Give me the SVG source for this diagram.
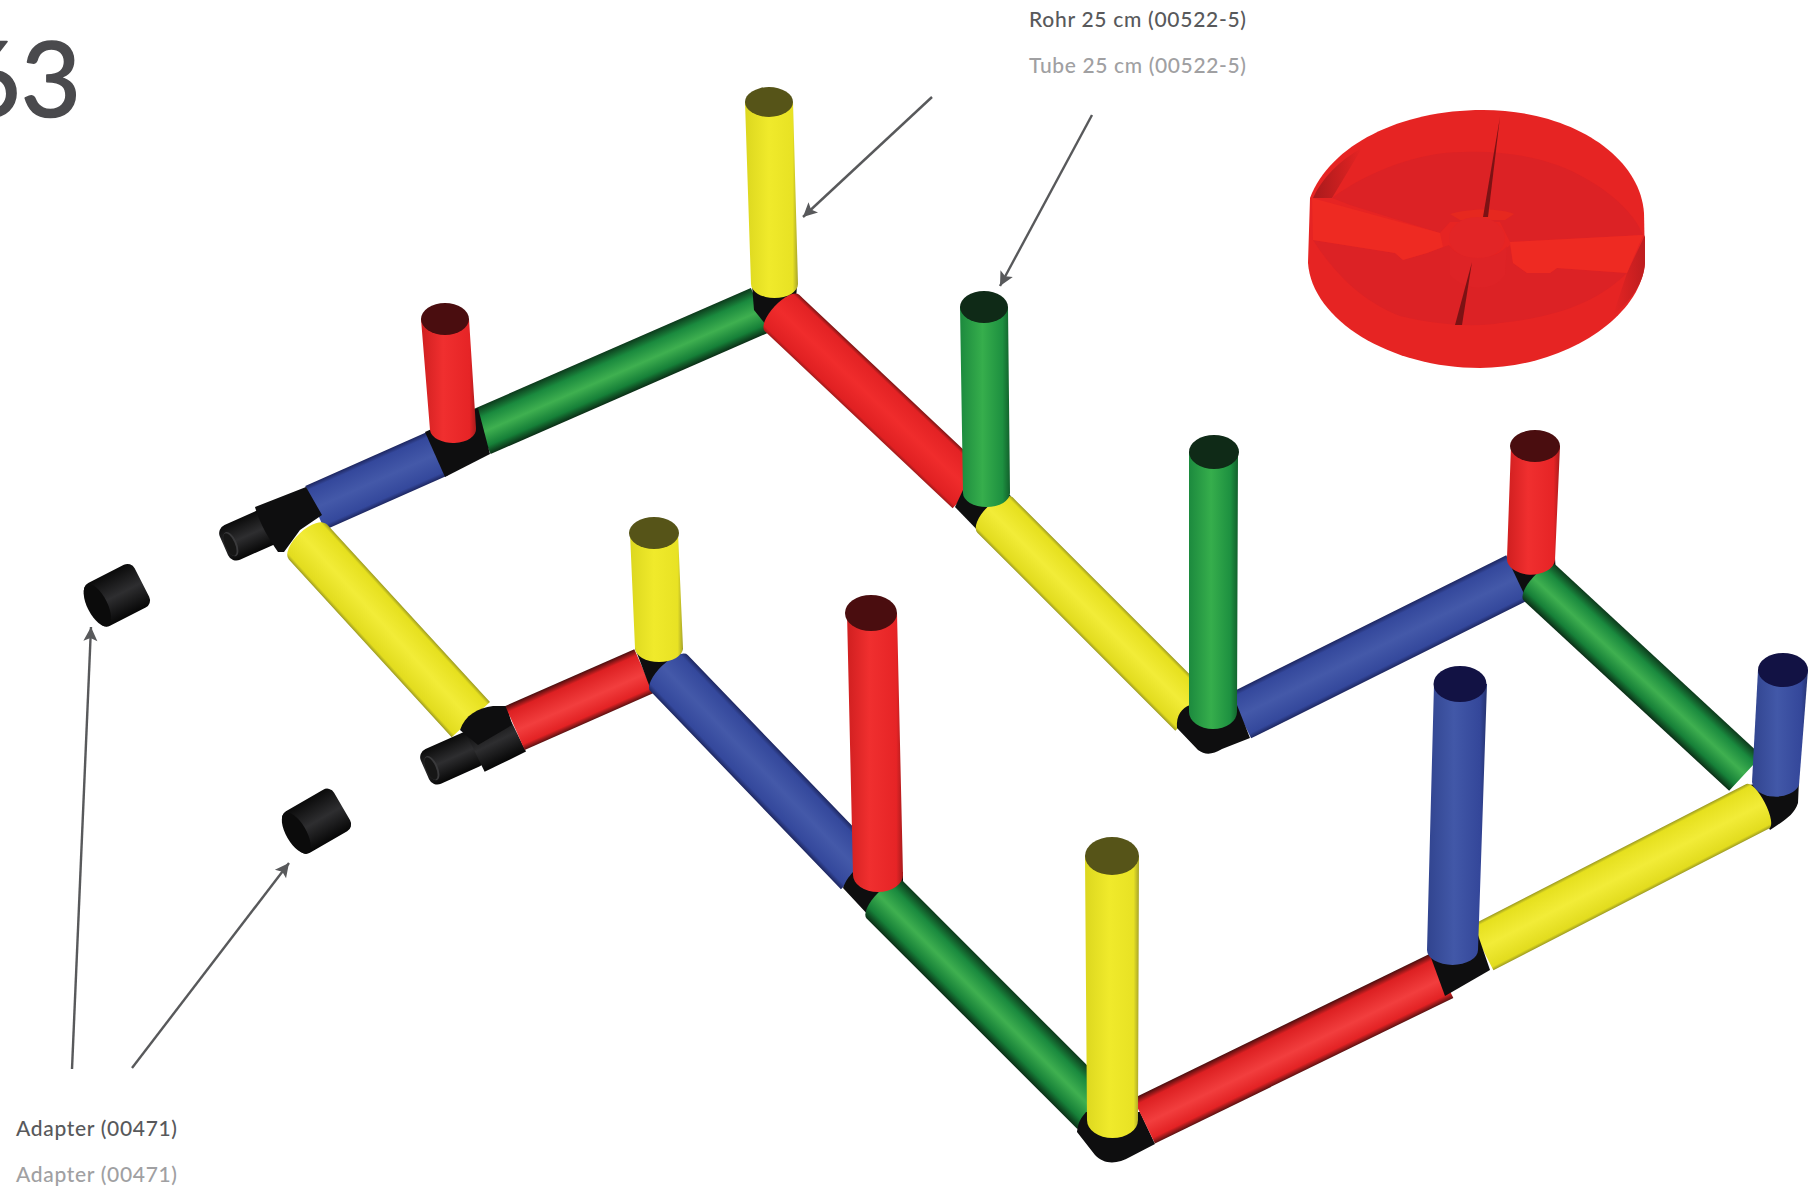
<svg xmlns="http://www.w3.org/2000/svg" width="1818" height="1192" viewBox="0 0 1818 1192">
<defs>
<linearGradient id="rH" x1="0" y1="0" x2="0" y2="1"><stop offset="0" stop-color="#4a0f0f"/><stop offset=".14" stop-color="#dd2022"/><stop offset=".56" stop-color="#f23e3e"/><stop offset=".88" stop-color="#e32224"/><stop offset="1" stop-color="#5a1212"/></linearGradient>
<linearGradient id="rD" x1="0" y1="0" x2="0" y2="1"><stop offset="0" stop-color="#7a1414"/><stop offset=".08" stop-color="#e32224"/><stop offset=".5" stop-color="#f02c2c"/><stop offset=".93" stop-color="#e02022"/><stop offset="1" stop-color="#a01a1a"/></linearGradient>
<linearGradient id="gH" x1="0" y1="0" x2="0" y2="1"><stop offset="0" stop-color="#0d3a1c"/><stop offset=".22" stop-color="#1a8a3e"/><stop offset=".52" stop-color="#3fb050"/><stop offset=".82" stop-color="#168038"/><stop offset="1" stop-color="#0b2e16"/></linearGradient>
<linearGradient id="bH" x1="0" y1="0" x2="0" y2="1"><stop offset="0" stop-color="#1e2760"/><stop offset=".1" stop-color="#34489c"/><stop offset=".5" stop-color="#4459a9"/><stop offset=".9" stop-color="#34489c"/><stop offset="1" stop-color="#1e2760"/></linearGradient>
<linearGradient id="yH" x1="0" y1="0" x2="0" y2="1"><stop offset="0" stop-color="#9c9a22"/><stop offset=".07" stop-color="#e6e01e"/><stop offset=".5" stop-color="#f2ec38"/><stop offset=".93" stop-color="#e2dc1e"/><stop offset="1" stop-color="#9c9a22"/></linearGradient>
<linearGradient id="kH" x1="0" y1="0" x2="0" y2="1"><stop offset="0" stop-color="#0a0a0a"/><stop offset=".5" stop-color="#2e2e30"/><stop offset="1" stop-color="#060606"/></linearGradient>
<linearGradient id="rV" x1="0" y1="0" x2="1" y2="0"><stop offset="0" stop-color="#d01f20"/><stop offset=".4" stop-color="#f02f2f"/><stop offset=".88" stop-color="#e62426"/><stop offset="1" stop-color="#a81b1c"/></linearGradient>
<linearGradient id="gV" x1="0" y1="0" x2="1" y2="0"><stop offset="0" stop-color="#1c8a3e"/><stop offset=".45" stop-color="#36ae4c"/><stop offset=".85" stop-color="#1d9040"/><stop offset="1" stop-color="#12602c"/></linearGradient>
<linearGradient id="bV" x1="0" y1="0" x2="1" y2="0"><stop offset="0" stop-color="#31448f"/><stop offset=".45" stop-color="#4258a8"/><stop offset=".88" stop-color="#34479a"/><stop offset="1" stop-color="#26336f"/></linearGradient>
<linearGradient id="yV" x1="0" y1="0" x2="1" y2="0"><stop offset="0" stop-color="#dcd71f"/><stop offset=".45" stop-color="#f0ea2b"/><stop offset=".9" stop-color="#e8e224"/><stop offset="1" stop-color="#a6a32a"/></linearGradient>
<linearGradient id="shadeL" x1="0" y1="0" x2="1" y2="0"><stop offset="0" stop-color="#a81a1c"/><stop offset="1" stop-color="#e62423"/></linearGradient>
<linearGradient id="shadeR" x1="0" y1="0" x2="1" y2="0"><stop offset="0" stop-color="#e62423"/><stop offset="1" stop-color="#bd1d1f"/></linearGradient>
<marker id="arrow" markerUnits="userSpaceOnUse" markerWidth="18" markerHeight="18" refX="15" refY="8" orient="auto" viewBox="0 0 18 18"><path d="M15 8 L1 1 L4 8 L1 15 Z" fill="#58595b"/></marker>
</defs>
<style>
.lead{fill:none;stroke:#58595b;stroke-width:2.4;marker-end:url(#arrow)}
.de{font-family:"Lato","Open Sans",sans-serif;font-size:21px;font-weight:500;fill:#58595b}
.en{font-family:"Lato","Open Sans",sans-serif;font-size:21px;font-weight:500;fill:#a0a0a2}
.num{font-family:"Lato","Open Sans",sans-serif;font-size:104px;font-weight:400;fill:#4a4a4d;stroke:#4a4a4d;stroke-width:1.6;stroke-linejoin:round}
.k{fill:#0e0e0f}
</style>
<rect width="1818" height="1192" fill="#ffffff"/>
<text class="num" x="81" y="117" text-anchor="end">63</text>

<g id="disc">
<path d="M1310 198 C1330 145 1400 110 1483 110 C1570 110 1640 155 1644 213 L1645 263 C1640 320 1560 368 1480 368 C1390 368 1312 320 1308 263 Z" fill="#e62423"/>
<path d="M1313 198 C1322 178 1340 160 1362 148 L1332 198 Z" fill="url(#shadeL)"/>
<path d="M1613 315 C1632 300 1644 282 1645 263 L1645 235 L1627 273 Z" fill="url(#shadeR)"/>
<path d="M1332 198 C1370 170 1420 152 1463 152 C1510 150 1555 160 1585 178 C1615 195 1635 215 1643 235 L1510 242 L1500 222 L1450 222 L1440 233 L1350 205 Z" fill="#dc2225"/>
<path d="M1313 240 L1395 253 L1403 260 L1427 253 L1443 247 L1449 245 C1460 262 1495 262 1510 245 L1513 263 L1527 273 L1550 273 L1557 268 L1627 273 C1600 300 1560 317 1500 323 C1480 327 1440 326 1400 316 C1365 303 1335 275 1313 240 Z" fill="#dc2225"/>
<path d="M1312 198 L1440 233 L1443 247 L1427 253 L1403 260 L1395 253 L1313 240 Z" fill="#ee2a22"/>
<path d="M1510 242 L1643 235 L1627 273 L1557 268 L1550 273 L1527 273 L1513 263 Z" fill="#ee2a22"/>
<path d="M1450 214 C1470 208 1500 208 1514 214 L1505 220 L1460 220 Z" fill="#e6281f"/>
<ellipse cx="1477" cy="238" rx="28" ry="21" fill="#e22526"/>
<path d="M1450 246 C1460 262 1495 262 1507 246 L1505 275 C1495 292 1465 292 1450 275 Z" fill="#de2326"/>
<path d="M1500 117 L1483 217 L1488 217 Z" fill="#7c1214"/>
<path d="M1472 262 L1455 325 L1462 325 Z" fill="#7c1214"/>
</g>

<g id="frame">
<g id="adapter-1" transform="translate(92,608) rotate(-27)"><rect x="0" y="-24" width="56" height="48" rx="8" fill="url(#kH)"/><ellipse cx="6" cy="0" rx="10" ry="23" fill="#0b0b0b"/></g>
<g id="adapter-2" transform="translate(291,836) rotate(-30)"><rect x="0" y="-24" width="59" height="48" rx="8" fill="url(#kH)"/><ellipse cx="6" cy="0" rx="10" ry="23" fill="#0b0b0b"/></g>

<g id="tube-blue-1" transform="translate(315,508) rotate(-23.9)"><rect x="0" y="-24" width="135" height="48" fill="url(#bH)"/></g>
<g id="joint-a" transform="translate(224,546) rotate(-24)"><rect x="0" y="-19" width="55" height="38" rx="9" fill="url(#kH)"/><ellipse cx="7" cy="1" rx="6" ry="13" fill="#3a3a3c"/><ellipse cx="6" cy="1" rx="5" ry="12" fill="#161616"/></g>
<path id="joint-a2" class="k" d="M255 507 L306 487 L322 515 L300 530 L284 552 L278 552 C270 540 260 525 255 507 Z"/>

<g id="tube-green-1" transform="translate(481,432) rotate(-23.6)"><rect x="0" y="-24" width="305" height="48" fill="url(#gH)"/></g>
<path id="joint-b" class="k" d="M425 432 L478 408 L490 454 L445 477 Z"/>
<path id="joint-c" class="k" d="M752 285 L797 285 L796 300 L770 330 L754 310 Z"/>

<g id="tube-red-1" transform="translate(782,313) rotate(43.3)"><path d="M0 -25 A10 25 0 0 0 0 25 L258 25 L258 -25 Z" fill="url(#rD)"/></g>
<path id="post-y1" d="M745 102 L751 284 A23.5 14 0 0 0 798 284 L793 102 Z" fill="url(#yV)"/><ellipse cx="769" cy="102" rx="24" ry="15" fill="#565418"/>
<path id="post-r1" d="M421 319 L430 430 A23 14 0 0 0 476 428 L469 319 Z" fill="url(#rV)"/><ellipse cx="445" cy="319" rx="24" ry="16" fill="#4a0d0f"/>

<path id="joint-d" class="k" d="M955 507 L963 490 L1010 495 L1014 503 L985 538 Z"/>
<g id="tube-yellow-2" transform="translate(995,515) rotate(45)"><path d="M0 -25 A11 25 0 0 0 0 25 L280 25 L280 -25 Z" fill="url(#yH)"/></g>
<path id="post-g1" d="M960 307 L963 493 A23.5 14 0 0 0 1010 493 L1008 307 Z" fill="url(#gV)"/><ellipse cx="984" cy="307" rx="24" ry="16" fill="#0f2a17"/>

<g id="tube-blue-3" transform="translate(1240,716) rotate(-26.5)"><rect x="0" y="-25" width="310" height="50" fill="url(#bH)"/></g>
<path id="joint-e" class="k" d="M1177 728 C1176 715 1182 708 1190 705 L1237 705 L1250 738 L1222 749 C1212 755 1205 755 1198 750 Z"/>
<path id="post-g2" d="M1189 452 L1189 712 A24 17 0 0 0 1237 712 L1238 452 Z" fill="url(#gV)"/><ellipse cx="1214" cy="452" rx="25" ry="17" fill="#0f2a17"/>

<path id="joint-f" class="k" d="M1507 558 L1555 558 L1556 575 L1527 600 Z"/>
<g id="tube-green-2" transform="translate(1540,583) rotate(42.8)"><path d="M0 -24 A9 24 0 0 0 0 24 L280 24 L280 -24 Z" fill="url(#gH)"/></g>
<path id="post-r2" d="M1511 446 L1507 558 A23 15 0 0 0 1555 560 L1560 446 Z" fill="url(#rV)"/><ellipse cx="1535" cy="446" rx="25" ry="16" fill="#4a0d0f"/>

<path id="joint-g" class="k" d="M1748 785 L1799 780 L1798 803 C1794 815 1785 820 1770 830 L1760 810 Z"/>
<path id="post-b1" d="M1758 670 L1752 782 A24 16 0 0 0 1799 785 L1808 670 Z" fill="url(#bV)"/><ellipse cx="1783" cy="670" rx="25" ry="17" fill="#121244"/>
<g id="tube-yellow-3" transform="translate(1482,948) rotate(-27.2)"><path d="M0 -25 L310 -25 A8 25 0 0 1 310 25 L0 25 Z" fill="url(#yH)"/></g>

<g id="tube-yellow-1" transform="translate(308,542) rotate(47.5)"><path d="M0 -26 A12 26 0 0 0 0 26 L241 26 L241 -26 Z" fill="url(#yH)"/></g>
<g id="joint-h" transform="translate(425,770) rotate(-24)"><rect x="0" y="-19" width="60" height="38" rx="9" fill="url(#kH)"/><ellipse cx="7" cy="1" rx="6" ry="13" fill="#3a3a3c"/><ellipse cx="6" cy="1" rx="5" ry="12" fill="#161616"/></g>
<g id="joint-h2" transform="translate(475,752) rotate(-26)"><rect x="0" y="-22" width="46" height="44" fill="url(#kH)"/></g>
<path id="joint-h3" class="k" d="M460 730 C465 715 478 708 493 706 L507 706 L512 725 L478 745 Z"/>
<g id="tube-red-2" transform="translate(515,728) rotate(-23.8)"><rect x="0" y="-24" width="141" height="48" fill="url(#rH)"/></g>

<path id="joint-l" class="k" d="M635 648 L683 648 L664 690 L652 693 Z"/>
<g id="tube-blue-2" transform="translate(669,673) rotate(46.1)"><path d="M0 -26 A10 26 0 0 0 0 26 L275 26 L275 -26 Z" fill="url(#bH)"/></g>
<path id="post-y2" d="M630 533 L635 648 A24 14 0 0 0 683 648 L678 533 Z" fill="url(#yV)"/><ellipse cx="654" cy="533" rx="25" ry="16" fill="#565418"/>

<path id="joint-i" class="k" d="M843 888 C846 880 848 878 853 872 L903 872 L903 890 L880 905 L870 917 Z"/>
<g id="tube-green-3" transform="translate(885,900) rotate(45)"><path d="M0 -26 A10 26 0 0 0 0 26 L298 26 L298 -26 Z" fill="url(#gH)"/></g>
<path id="post-r3" d="M847 613 L853 875 A25 17 0 0 0 903 875 L897 613 Z" fill="url(#rV)"/><ellipse cx="871" cy="613" rx="26" ry="18" fill="#4a0d0f"/>

<path id="joint-j" class="k" d="M1077 1132 C1078 1122 1081 1118 1086 1112 L1140 1112 L1155 1144 L1130 1157 C1118 1164 1104 1165 1095 1155 Z"/>
<g id="tube-red-3" transform="translate(1144,1121) rotate(-26)"><rect x="0" y="-25" width="332" height="50" fill="url(#rH)"/></g>
<path id="joint-k" class="k" d="M1430 955 L1478 935 L1490 970 L1445 996 Z"/>
<path id="post-y3" d="M1085 856 L1087 1120 A25.5 18 0 0 0 1138 1120 L1139 856 Z" fill="url(#yV)"/><ellipse cx="1112" cy="856" rx="27" ry="19" fill="#565418"/>
<path id="post-b2" d="M1434 684 L1427 950 A25.5 15 0 0 0 1478 950 L1487 684 Z" fill="url(#bV)"/><ellipse cx="1460" cy="684" rx="26.5" ry="18" fill="#121244"/>
</g>

<g id="connectors">
<line class="lead" x1="932" y1="97" x2="803" y2="217"/>
<line class="lead" x1="1092" y1="115" x2="1000" y2="286"/>
<line class="lead" x1="72" y1="1069" x2="91" y2="627"/>
<line class="lead" x1="132" y1="1068" x2="289" y2="863"/>
</g>

<g id="labels">
<text class="de" x="1029" y="27" textLength="217">Rohr 25 cm (00522-5)</text>
<text class="en" x="1029" y="73" textLength="217">Tube 25 cm (00522-5)</text>
<text class="de" x="16" y="1136" textLength="161">Adapter (00471)</text>
<text class="en" x="16" y="1182" textLength="161">Adapter (00471)</text>
</g>
</svg>
